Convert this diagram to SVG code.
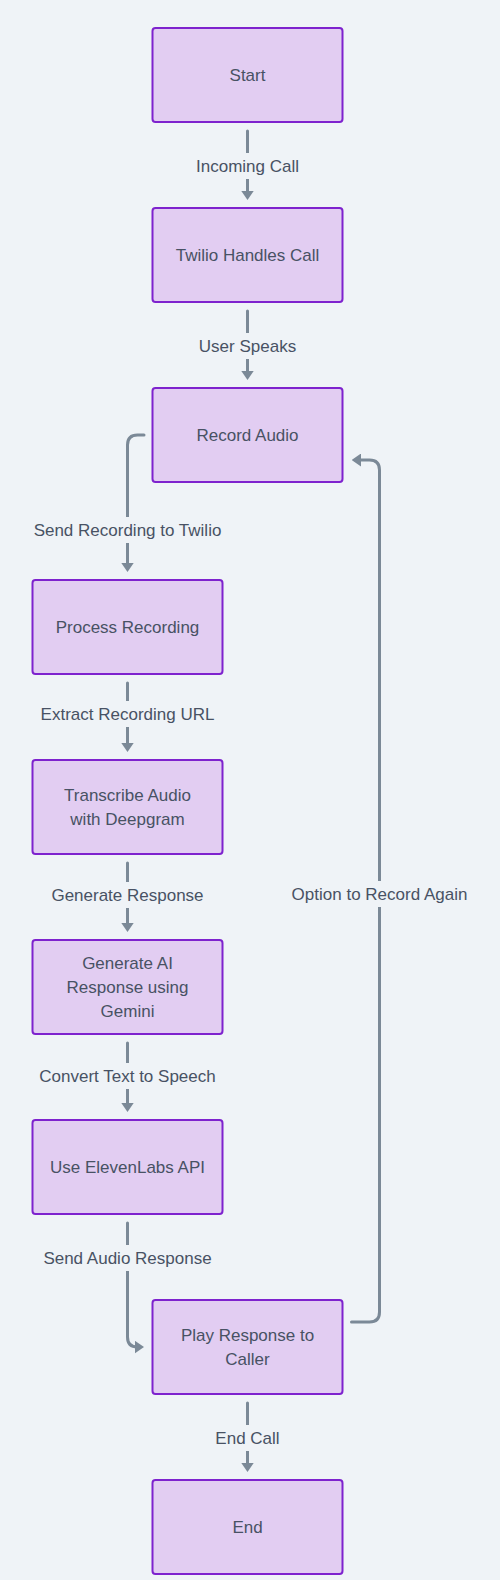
<svg xmlns="http://www.w3.org/2000/svg" width="500" height="1580" viewBox="0 0 500 1580">
<style>
.bg{fill:#eff3f7}
.node rect{fill:#e2cdf2;stroke:#7e22ce;stroke-width:2}
.node text,.lbl text{font-family:"Liberation Sans",Arial,sans-serif;font-size:17px;fill:#485264;text-anchor:middle}
.edge{fill:none;stroke:#7b8997;stroke-width:3;stroke-linecap:round;stroke-linejoin:round}
.lbl rect{fill:#eff3f7}
</style>
<defs>
<marker id="ah" markerUnits="userSpaceOnUse" viewBox="0 0 9.5 13" markerWidth="9.5" markerHeight="13" refX="5.5" refY="6.5" orient="auto">
<path d="M0,0 L9.5,6.5 L0,13 z" fill="#7b8997"/>
</marker>
</defs>
<rect class="bg" x="0" y="0" width="500" height="1580"/>
<g id="connectors">
<path class="edge" d="M247.5,131 V196" marker-end="url(#ah)"/>
<path class="edge" d="M247.5,311 V376" marker-end="url(#ah)"/>
<path class="edge" d="M144,435 H137.5 Q127.5,435 127.5,445 V568" marker-end="url(#ah)"/>
<path class="edge" d="M127.5,683 V748" marker-end="url(#ah)"/>
<path class="edge" d="M127.5,863 V928" marker-end="url(#ah)"/>
<path class="edge" d="M127.5,1043 V1108" marker-end="url(#ah)"/>
<path class="edge" d="M127.5,1223 V1337 Q127.5,1347 137.5,1347 H140" marker-end="url(#ah)"/>
<path class="edge" d="M351.5,1322 H369.5 Q379.5,1322 379.5,1312 V470 Q379.5,460 369.5,460 H355.5" marker-end="url(#ah)"/>
<path class="edge" d="M247.5,1403 V1468" marker-end="url(#ah)"/>
<g class="lbl">
<rect x="192" y="153" width="111" height="26"/><text x="247.5" y="172">Incoming Call</text>
<rect x="197" y="333" width="101" height="26"/><text x="247.5" y="352">User Speaks</text>
<rect x="31" y="517" width="193" height="26"/><text x="127.5" y="536">Send Recording to Twilio</text>
<rect x="37" y="701" width="181" height="26"/><text x="127.5" y="720">Extract Recording URL</text>
<rect x="50" y="882" width="155" height="26"/><text x="127.5" y="901">Generate Response</text>
<rect x="38" y="1063" width="179" height="26"/><text x="127.5" y="1082">Convert Text to Speech</text>
<rect x="42" y="1245" width="171" height="26"/><text x="127.5" y="1264">Send Audio Response</text>
<rect x="291" y="881" width="177" height="26"/><text x="379.5" y="900">Option to Record Again</text>
<rect x="212" y="1425" width="71" height="26"/><text x="247.5" y="1444">End Call</text>
</g>
</g>
<g id="start" class="node"><rect x="152.5" y="28" width="190" height="94" rx="3"/><text x="247.5" y="81">Start</text></g>
<g id="twilio" class="node"><rect x="152.5" y="208" width="190" height="94" rx="3"/><text x="247.5" y="261">Twilio Handles Call</text></g>
<g id="record" class="node"><rect x="152.5" y="388" width="190" height="94" rx="3"/><text x="247.5" y="441">Record Audio</text></g>
<g id="process" class="node"><rect x="32.5" y="580" width="190" height="94" rx="3"/><text x="127.5" y="633">Process Recording</text></g>
<g id="transcribe" class="node"><rect x="32.5" y="760" width="190" height="94" rx="3"/><text x="127.5" y="801">Transcribe Audio</text><text x="127.5" y="825">with Deepgram</text></g>
<g id="generate" class="node"><rect x="32.5" y="940" width="190" height="94" rx="3"/><text x="127.5" y="969">Generate AI</text><text x="127.5" y="993">Response using</text><text x="127.5" y="1017">Gemini</text></g>
<g id="eleven" class="node"><rect x="32.5" y="1120" width="190" height="94" rx="3"/><text x="127.5" y="1173">Use ElevenLabs API</text></g>
<g id="play" class="node"><rect x="152.5" y="1300" width="190" height="94" rx="3"/><text x="247.5" y="1341">Play Response to</text><text x="247.5" y="1365">Caller</text></g>
<g id="end" class="node"><rect x="152.5" y="1480" width="190" height="94" rx="3"/><text x="247.5" y="1533">End</text></g>
</svg>
